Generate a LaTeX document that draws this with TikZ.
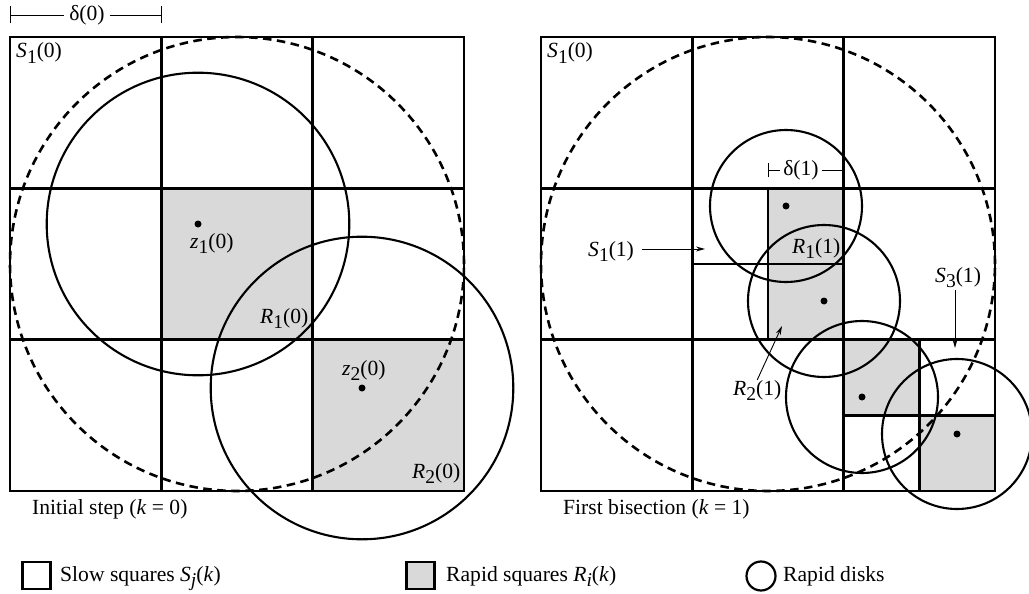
\documentclass[tikz,border=0pt]{standalone}
\usepackage{fontspec}
\setmainfont{Liberation Serif}
\usetikzlibrary{arrows.meta}
\newcommand\lsub[1]{\raisebox{-5.5pt}{\fontsize{19.5}{19.5}\selectfont #1}}
\newcommand\mi[1]{\textit{#1}}
\begin{document}
\begin{tikzpicture}[x=1pt,y=-1pt,
  grid/.style={line width=2.8pt},
  disk/.style={line width=2.1pt},
  dashcirc/.style={line width=2.6pt, dash pattern=on 8.5pt off 5.5pt},
  rapid/.style={fill=black!15},
  lbl/.style={inner sep=0pt, font=\fontsize{21.6}{24}\selectfont},
  dot/.style={circle, fill=black, inner sep=0pt, minimum size=7pt},
  ptr/.style={line width=0.9pt, -{Stealth[length=9pt,width=5pt]}},
  dim/.style={line width=0.9pt},
]
\useasboundingbox (0,0) rectangle (1029,594);

% ---------------- left panel ----------------
\fill[rapid] (161.33,188.33) rectangle (312.67,339.67);
\fill[rapid] (312.67,339.67) rectangle (464,491);
\draw[grid] (10,37) rectangle (464,491);
\draw[grid] (161.33,37) -- (161.33,491) (312.67,37) -- (312.67,491);
\draw[grid] (10,188.33) -- (464,188.33) (10,339.67) -- (464,339.67);
\draw[dashcirc] (237,264) circle[radius=227pt];
\draw[disk] (198,224) circle[radius=151.3pt];
\draw[disk] (362,388) circle[radius=151.3pt];
\node[dot] (z1) at (198,224) {};
\node[dot] (z2) at (362,388) {};
\node[lbl, anchor=base west] (lS10) at (16,58) {\mi{S}\lsub{1}(0)};
\node[lbl, anchor=base west] (lz1) at (190,248) {\mi{z}\lsub{1}(0)};
\node[lbl, anchor=base west] (lR10) at (260,323) {\mi{R}\lsub{1}(0)};
\node[lbl, anchor=base west] (lz2) at (342,375) {\mi{z}\lsub{2}(0)};
\node[lbl, anchor=base west] (lR20) at (412,478) {\mi{R}\lsub{2}(0)};
\node[lbl, anchor=base west] (cap0) at (32,514) {Initial step (\mi{k} = 0)};
% delta(0)
\node[lbl, inner xsep=5pt] (d0) at (87,15) {δ(0)};
\coordinate (d0l) at (10,15);
\coordinate (d0r) at (162,15);
\draw[dim, {Bar[width=17pt]}-] (d0l) -- (d0.west);
\draw[dim, -{Bar[width=17pt]}] (d0.east) -- (d0r);

% ---------------- right panel ----------------
\fill[rapid] (768,188.33) rectangle (843.67,339.67);
\fill[rapid] (843.67,339.67) rectangle (919.33,415.33);
\fill[rapid] (919.33,415.33) rectangle (995,491);
\draw[grid] (541,37) rectangle (995,491);
\draw[grid] (692.33,37) -- (692.33,491) (843.67,37) -- (843.67,491);
\draw[grid] (541,188.33) -- (995,188.33) (541,339.67) -- (995,339.67);
\draw[grid] (768,188.33) -- (768,339.67) (692.33,264) -- (843.67,264);
\draw[grid] (919.33,339.67) -- (919.33,491) (843.67,415.33) -- (995,415.33);
\draw[dashcirc] (768,264) circle[radius=227pt];
\draw[disk] (786,206) circle[radius=76pt];
\draw[disk] (824,301) circle[radius=76pt];
\draw[disk] (862,397) circle[radius=76pt];
\draw[disk] (957,434) circle[radius=75pt];
\node[dot] (p1) at (786,206) {};
\node[dot] (p2) at (824,301) {};
\node[dot] (p3) at (862,397) {};
\node[dot] (p4) at (957,434) {};
\node[lbl, anchor=base west] (rS10) at (547,58) {\mi{S}\lsub{1}(0)};
\node[lbl, anchor=base west] (lR11) at (792,253) {\mi{R}\lsub{1}(1)};
\node[lbl, anchor=base west] (lS11) at (588,256) {\mi{S}\lsub{1}(1)};
\node[lbl, anchor=base west] (lR21) at (733,395) {\mi{R}\lsub{2}(1)};
\node[lbl, anchor=base west] (lS31) at (935,282) {\mi{S}\lsub{3}(1)};
\node[lbl, anchor=base west] (cap1) at (563,514) {First bisection (\mi{k} = 1)};
\coordinate (s11tip) at (705,249);
\coordinate (r21tip) at (782,326);
\coordinate (s31tip) at (955,348);
\draw[ptr, shorten <=8pt] (s11tip -| lS11.east) -- (s11tip);
\draw[ptr] (lR21.north) -- (r21tip);
\draw[ptr, shorten <=2pt] (s31tip |- lS31.south) -- (s31tip);
% delta(1)
\node[lbl, inner xsep=3pt] (d1) at (801,170) {δ(1)};
\coordinate (d1l) at (768,170);
\coordinate (d1r) at (843.67,170);
\draw[dim, {Bar[width=14pt]}-] (d1l) -- (d1.west);
\draw[dim, -{Bar[width=14pt]}] (d1.east) -- (d1r);

% ---------------- legend ----------------
\node[draw, line width=2.2pt, minimum width=28pt, minimum height=27pt, inner sep=0pt] (legS) at (36.5,575.5) {};
\node[lbl, anchor=base west] (legSt) at (60,581) {Slow squares \mi{S}\lsub{\mi{j}}(\mi{k})};
\node[draw, rapid, line width=2.2pt, minimum width=28pt, minimum height=27pt, inner sep=0pt] (legR) at (420.5,575.5) {};
\node[lbl, anchor=base west] (legRt) at (446,581) {Rapid squares \mi{R}\lsub{\mi{i}}(\mi{k})};
\node[draw, circle, line width=2.2pt, minimum size=29pt, inner sep=0pt] (legD) at (761,576) {};
\node[lbl, anchor=base west] (legDt) at (783,581) {Rapid disks};
\end{tikzpicture}
\end{document}
